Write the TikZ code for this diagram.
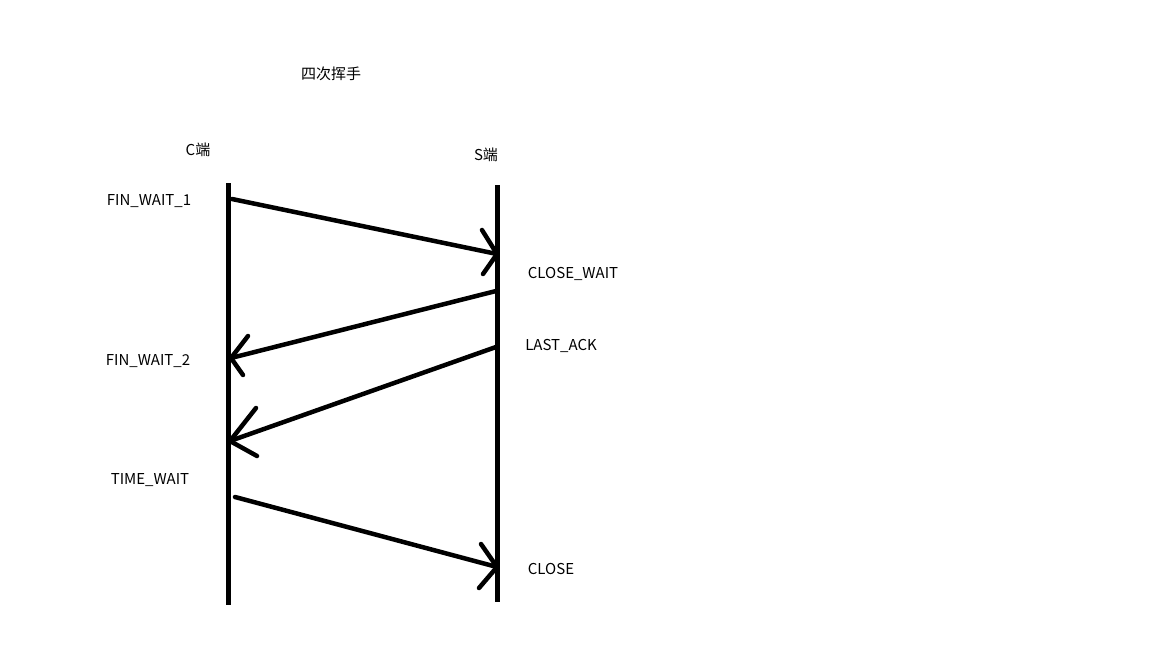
\documentclass[tikz,border=0pt]{standalone}
\usepackage{fontspec}
\setmainfont{Noto Sans CJK SC}
\begin{document}
\begin{tikzpicture}[x=1pt,y=-1pt,
  life/.style={line width=5pt},
  msg/.style={line width=4.5pt,line cap=round},
  lbl/.style={font=\fontsize{15}{17}\selectfont,inner sep=0pt}]
\useasboundingbox[fill=white] (0,0) rectangle (1152,648);
% titles
\node[lbl] (title) at (331,74) {四次挥手};
\node[lbl] (cl) at (198,150) {C端};
\node[lbl] (sl) at (486,155) {S端};
% lifelines
\coordinate (ctop) at (228,183);
\coordinate (cbot) at (228,605);
\coordinate (stop) at (497,185);
\coordinate (sbot) at (497,602);
\draw[life] (ctop) -- (cbot);
\draw[life] (stop) -- (sbot);
% state labels
\node[lbl] (fw1) at (149,201) {FIN\_WAIT\_1};
\node[lbl] (cw) at (573,274) {CLOSE\_WAIT};
\node[lbl] (fw2) at (148,361) {FIN\_WAIT\_2};
\node[lbl] (la) at (561,346) {LAST\_ACK};
\node[lbl] (tw) at (150,480) {TIME\_WAIT};
\node[lbl] (cs) at (551,569) {CLOSE};
% arrow 1
\coordinate (a1s) at (232,199);
\coordinate (a1t) at (497,254);
\coordinate (a1u) at (482,230);
\coordinate (a1l) at (483,274);
\draw[msg] (a1s) -- (a1t);
\draw[msg] (a1u) -- (a1t) -- (a1l);
% arrow 2
\coordinate (a2s) at (496,291);
\coordinate (a2t) at (231,358);
\coordinate (a2u) at (248,336);
\coordinate (a2l) at (243,375);
\draw[msg] (a2s) -- (a2t);
\draw[msg] (a2u) -- (a2t) -- (a2l);
% arrow 3
\coordinate (a3s) at (496,347);
\coordinate (a3t) at (230,441);
\coordinate (a3u) at (256,408);
\coordinate (a3l) at (257,456);
\draw[msg] (a3s) -- (a3t);
\draw[msg] (a3u) -- (a3t) -- (a3l);
% arrow 4
\coordinate (a4s) at (235,497);
\coordinate (a4t) at (497,567);
\coordinate (a4u) at (481,544);
\coordinate (a4l) at (479,588);
\draw[msg] (a4s) -- (a4t);
\draw[msg] (a4u) -- (a4t) -- (a4l);
\end{tikzpicture}
\end{document}
